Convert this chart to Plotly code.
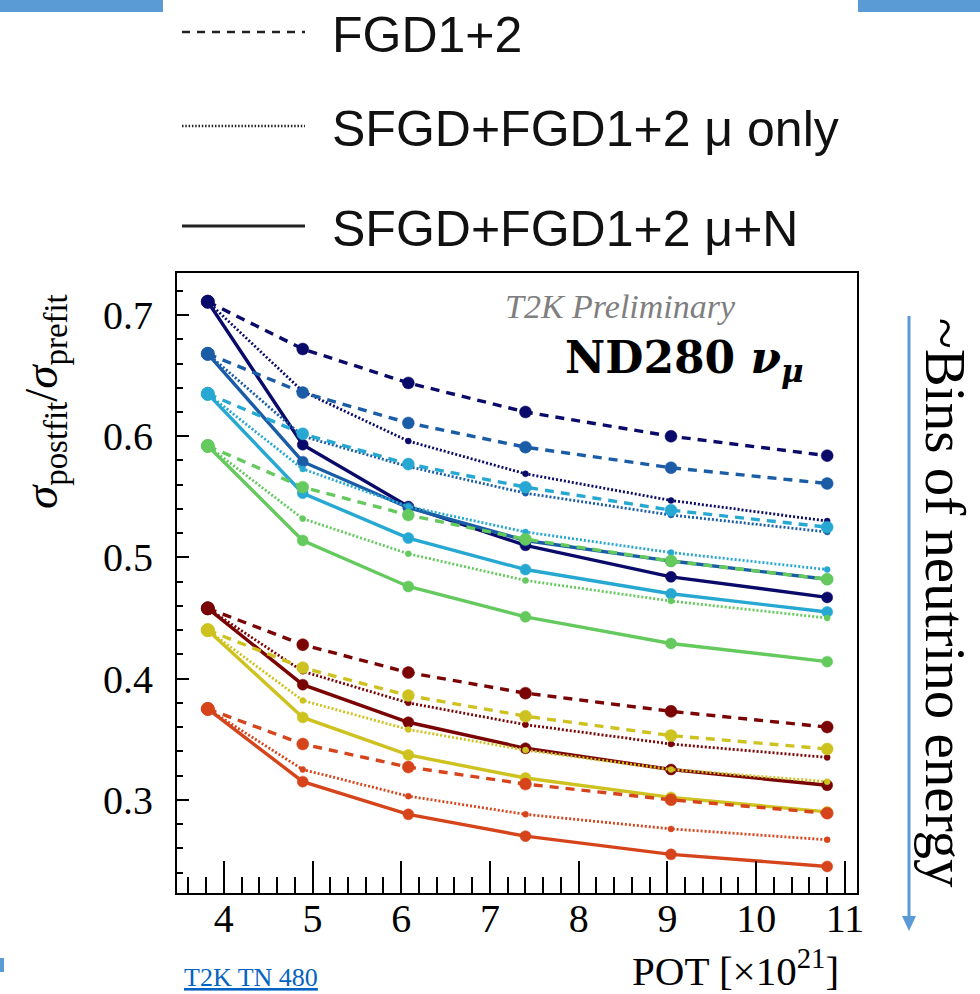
import plotly.graph_objects as go

# ---------------- data ----------------
pot = [3.82, 4.89, 6.08, 7.40, 9.04, 10.80]

bins = ["bin1", "bin2", "bin3", "bin4", "bin5", "bin6", "bin7"]
bin_colors = ["#0a0a6a", "#1a5ca6", "#27a8d2", "#64ca5e", "#7a0303", "#cdc21f", "#d6441b"]

fgd = [
    [0.711, 0.672, 0.644, 0.620, 0.600, 0.584],
    [0.668, 0.636, 0.611, 0.591, 0.574, 0.561],
    [0.635, 0.602, 0.577, 0.558, 0.539, 0.525],
    [0.592, 0.558, 0.535, 0.515, 0.497, 0.482],
    [0.458, 0.428, 0.405, 0.388, 0.373, 0.360],
    [0.440, 0.409, 0.386, 0.369, 0.353, 0.342],
    [0.375, 0.346, 0.327, 0.313, 0.300, 0.289],
]
mu_only = [
    [0.711, 0.637, 0.596, 0.569, 0.547, 0.530],
    [0.668, 0.600, 0.575, 0.553, 0.535, 0.521],
    [0.635, 0.573, 0.542, 0.521, 0.504, 0.490],
    [0.592, 0.532, 0.503, 0.481, 0.464, 0.450],
    [0.458, 0.406, 0.380, 0.362, 0.346, 0.335],
    [0.440, 0.382, 0.358, 0.341, 0.325, 0.315],
    [0.375, 0.325, 0.303, 0.288, 0.276, 0.267],
]
mu_n = [
    [0.711, 0.593, 0.542, 0.510, 0.484, 0.467],
    [0.668, 0.579, 0.541, 0.514, 0.497, 0.482],
    [0.635, 0.553, 0.516, 0.490, 0.470, 0.455],
    [0.592, 0.514, 0.476, 0.451, 0.429, 0.414],
    [0.458, 0.395, 0.364, 0.3425, 0.325, 0.312],
    [0.440, 0.368, 0.337, 0.318, 0.302, 0.290],
    [0.375, 0.315, 0.288, 0.270, 0.255, 0.245],
]

legend_labels = ["FGD1+2", "SFGD+FGD1+2 μ only", "SFGD+FGD1+2 μ+N"]
x_ticks = [4, 5, 6, 7, 8, 9, 10, 11]
y_ticks = [0.3, 0.4, 0.5, 0.6, 0.7]

# ---------------- layout geometry ----------------
FW, FH = 980, 994
L, R, T, B = 177, 857, 273, 893
PW, PH = R - L, B - T


def xp(px):
    return (px - L) / PW


def yp(py):
    return (B - py) / PH


fig = go.Figure()

styles = [
    (fgd, "9px,7px", 3.4, 12),
    (mu_only, "2px,2px", 2.8, 6),
    (mu_n, "solid", 3.4, 11),
]

for i, b in enumerate(bins):
    c = bin_colors[i]
    for series, dash, lw, ms in styles:
        ys = series[i]
        sizes = [13] + [ms] * (len(ys) - 1)
        fig.add_trace(go.Scatter(
            x=pot, y=ys, mode="lines+markers",
            line=dict(color=c, width=lw, dash=dash),
            marker=dict(color=c, size=sizes, opacity=1, line=dict(width=0.5, color=c)),
            opacity=1,
            showlegend=False, hoverinfo="skip",
        ))

serif = "Liberation Serif"

fig.update_layout(
    width=FW, height=FH,
    margin=dict(l=L, r=FW - R, t=T, b=FH - B, pad=0),
    paper_bgcolor="white", plot_bgcolor="white",
    showlegend=False,
    xaxis=dict(
        range=[3.473, 11.136], tickvals=x_ticks, ticktext=[str(v) for v in x_ticks],
        ticks="inside", ticklen=32, tickwidth=1.6, tickcolor="black",
        minor=dict(dtick=0.2, tick0=0, ticks="inside", ticklen=16, tickwidth=1.6, tickcolor="black"),
        showline=True, linecolor="black", linewidth=2, mirror=True,
        showgrid=False, zeroline=False,
        tickfont=dict(family=serif, size=40, color="black"),
        ticklabelstandoff=-11,
    ),
    yaxis=dict(
        range=[0.2231, 0.7347], tickvals=y_ticks, ticktext=["%.1f" % v for v in y_ticks],
        ticks="inside", ticklen=12, tickwidth=1.6, tickcolor="black",
        minor=dict(dtick=0.02, tick0=0, ticks="inside", ticklen=6, tickwidth=1.6, tickcolor="black"),
        showline=True, linecolor="black", linewidth=2, mirror=True,
        showgrid=False, zeroline=False,
        tickfont=dict(family=serif, size=40, color="black"),
        ticklabelstandoff=14,
    ),
)

shapes = []
blue = "#5b9bd5"
# top bars
shapes.append(dict(type="rect", xref="paper", yref="paper", x0=xp(0), x1=xp(163), y0=yp(12), y1=yp(0),
                   fillcolor=blue, line=dict(width=0), layer="above"))
shapes.append(dict(type="rect", xref="paper", yref="paper", x0=xp(858), x1=xp(980), y0=yp(12), y1=yp(0),
                   fillcolor=blue, line=dict(width=0), layer="above"))
shapes.append(dict(type="rect", xref="paper", yref="paper", x0=xp(0), x1=xp(4), y0=yp(972), y1=yp(958),
                   fillcolor=blue, line=dict(width=0), layer="above"))
# arrow
shapes.append(dict(type="line", xref="paper", yref="paper", x0=xp(909), x1=xp(909), y0=yp(316), y1=yp(920),
                   line=dict(color=blue, width=3)))
shapes.append(dict(type="path", xref="paper", yref="paper",
                   path="M %f %f L %f %f L %f %f Z" % (xp(902), yp(916), xp(916), yp(916), xp(909), yp(931)),
                   fillcolor=blue, line=dict(width=0)))

# legend samples
leg_y = [32, 126, 226]
leg_dash = ["8px,7px", "1.5px,1.8px", "solid"]
leg_w = [2.4, 2.6, 2.8]
for k in range(3):
    shapes.append(dict(type="line", xref="paper", yref="paper", x0=xp(182), x1=xp(305),
                       y0=yp(leg_y[k]), y1=yp(leg_y[k]),
                       line=dict(color="#222222", width=leg_w[k], dash=leg_dash[k])))

annotations = []
for k in range(3):
    annotations.append(dict(xref="paper", yref="paper", x=xp(330), y=yp(leg_y[k] + 3),
                            xanchor="left", yanchor="middle", showarrow=False,
                            text=legend_labels[k],
                            font=dict(family="Liberation Sans", size=50, color="#111111")))

annotations += [
    dict(xref="paper", yref="paper", x=xp(738), y=yp(306), xanchor="right", yanchor="middle",
         showarrow=False, text="<i>T2K Preliminary</i>",
         font=dict(family=serif, size=34, color="#7f7f7f")),
    dict(xref="paper", yref="paper", x=xp(806), y=yp(360), xanchor="right", yanchor="middle",
         showarrow=False, text="<b>ND280 <i>ν</i><sub><i>μ</i></sub></b>",
         font=dict(family="DejaVu Serif", size=44, color="black")),
    dict(xref="paper", yref="paper", x=xp(841), y=yp(968), xanchor="right", yanchor="middle",
         showarrow=False, text="POT [×10<sup>21</sup>]",
         font=dict(family=serif, size=41, color="black")),
    dict(xref="paper", yref="paper", x=xp(44), y=yp(402), xanchor="center", yanchor="middle",
         showarrow=False, textangle=-90,
         text="<i>σ</i><sub>postfit</sub>/<i>σ</i><sub>prefit</sub>",
         font=dict(family=serif, size=47, color="black")),
    dict(xref="paper", yref="paper", x=xp(946), y=yp(603), xanchor="center", yanchor="middle",
         showarrow=False, textangle=90,
         text="~Bins of neutrino energy",
         font=dict(family=serif, size=57, color="black")),
    dict(xref="paper", yref="paper", x=xp(182), y=yp(977), xanchor="left", yanchor="middle",
         showarrow=False, text="<u>T2K TN 480</u>",
         font=dict(family=serif, size=26, color="#0563c1")),
]

fig.update_layout(shapes=shapes, annotations=annotations)
fig.write_html("out.html")
